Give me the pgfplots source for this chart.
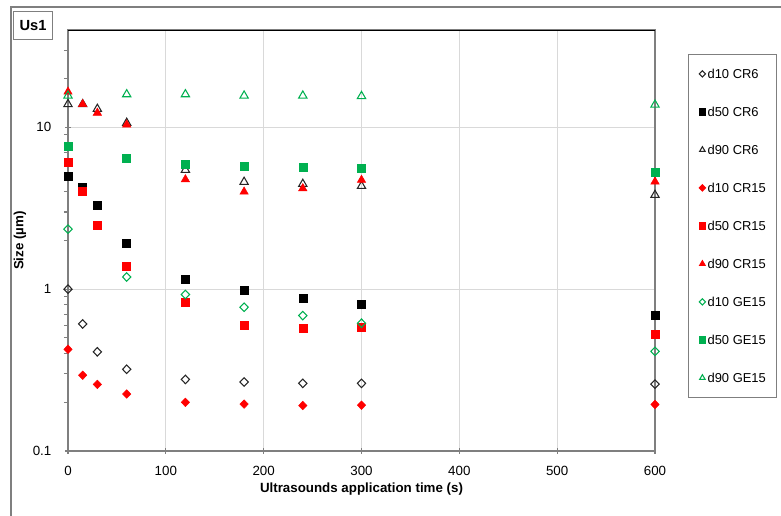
\documentclass[border=0pt]{standalone}
\usepackage{pgfplots}
\pgfplotsset{compat=1.18}
\usepackage{fontspec}
\setmainfont{Liberation Sans}
\definecolor{xred}{HTML}{FF0000}
\definecolor{xgreen}{HTML}{00B050}
\definecolor{axgray}{HTML}{7F7F7F}
\definecolor{gridgray}{HTML}{D9D9D9}
\begin{document}
\begin{tikzpicture}
\path[use as bounding box] (0,0) rectangle (585.75pt,387pt);
\begin{axis}[
  at={(51pt,48.75pt)}, anchor=south west,
  scale only axis, width=440.25pt, height=315.75pt,
  ymode=log, log basis y=10,
  xmin=0, xmax=600, ymin=0.1, ymax=40,
  xtick={0,100,...,600},
  ytick={0.1,1,10},
  minor ytick={0.2,0.3,0.4,0.5,0.6,0.7,0.8,0.9,2,3,4,5,6,7,8,9,20,30},
  tick pos=left,
  log ticks with fixed point,
  /pgf/number format/assume math mode=true,
  font=\fontsize{10}{12}\selectfont,
  ticklabel style={font=\fontsize{10}{12}\selectfont},
  xticklabel style={yshift=-5.5pt},
  yticklabel style={xshift=-7pt},
  xmajorgrids, ymajorgrids,
  major grid style={gridgray, line width=0.8pt},
  axis line style={axgray, line width=1.1pt},
  tick align=center,
  major tick length=4pt,
  minor tick length=3pt,
  tick style={axgray, line width=0.8pt},
  minor y tick style={xshift=-1.5pt},
  xlabel={\bfseries Ultrasounds application time (s)},
  ylabel={\bfseries Size (µm)},
  xlabel style={at={(axis description cs:0.5,-0.0903)}, anchor=center},
  ylabel style={at={(axis description cs:-0.0818,0.5)}, anchor=center, rotate=0},
  clip=false,
  legend style={at={(axis description cs:1.0562,0.943)}, anchor=north west,
    draw=axgray, line width=0.8pt, font=\fontsize{9.7}{12}\selectfont,
    inner xsep=8pt, inner ysep=10.75pt, row sep=21pt,
    nodes={inner sep=0pt, text height=7.5pt, text depth=0pt},
    /tikz/every odd column/.style={column sep=1.5pt}},
  legend cell align=left,
  legend image code/.code={\draw[#1,mark size=2.4pt] plot coordinates {(0pt,0pt)};},
]
% d10 CR6
\addplot[only marks, mark=diamond, mark size=3.2pt, black!85, mark options={line width=0.8pt, xscale=1.3}] coordinates {
(0,1.0) (15,0.61) (30,0.41) (60,0.32) (120,0.277) (180,0.267) (240,0.262) (300,0.262) (600,0.259)};
\addlegendentry{d10 CR6}
% d50 CR6
\addplot[only marks, mark=square*, mark size=3pt, black] coordinates {
(0,4.96) (15,4.24) (30,3.28) (60,1.91) (120,1.16) (180,0.98) (240,0.88) (300,0.81) (600,0.69)};
\addlegendentry{d50 CR6}
% d90 CR6
\addplot[only marks, mark=triangle, mark size=3.6pt, black!85, mark options={line width=0.8pt}] coordinates {
(0,13.9) (15,13.9) (30,13.0) (60,10.65) (120,5.46) (180,4.6) (240,4.47) (300,4.34) (600,3.82)};
\addlegendentry{d90 CR6}
% d10 CR15
\addplot[only marks, mark=diamond*, mark size=3.2pt, xred, mark options={xscale=1.3}] coordinates {
(0,0.425) (15,0.294) (30,0.258) (60,0.225) (120,0.2) (180,0.195) (240,0.191) (300,0.192) (600,0.194)};
\addlegendentry{d10 CR15}
% d50 CR15
\addplot[only marks, mark=square*, mark size=3pt, xred] coordinates {
(0,6.1) (15,4.05) (30,2.49) (60,1.39) (120,0.83) (180,0.60) (240,0.576) (300,0.582) (600,0.53)};
\addlegendentry{d50 CR15}
% d90 CR15
\addplot[only marks, mark=triangle*, mark size=3.6pt, xred] coordinates {
(0,16.6) (15,13.9) (30,12.3) (60,10.4) (120,4.77) (180,4.0) (240,4.2) (300,4.73) (600,4.62)};
\addlegendentry{d90 CR15}
% d10 GE15
\addplot[only marks, mark=diamond, mark size=3.2pt, xgreen, mark options={line width=0.8pt, xscale=1.3}] coordinates {
(0,2.35) (60,1.19) (120,0.927) (180,0.774) (240,0.687) (300,0.616) (600,0.413)};
\addlegendentry{d10 GE15}
% d50 GE15
\addplot[only marks, mark=square*, mark size=3pt, xgreen] coordinates {
(0,7.68) (60,6.43) (120,5.95) (180,5.78) (240,5.67) (300,5.63) (600,5.25)};
\addlegendentry{d50 GE15}
% d90 GE15
\addplot[only marks, mark=triangle, mark size=3.6pt, xgreen, mark options={line width=0.8pt}] coordinates {
(0,15.7) (60,16.0) (120,16.0) (180,15.7) (240,15.7) (300,15.6) (600,13.8)};
\addlegendentry{d90 GE15}
\draw[black, line width=0.6pt] (axis description cs:0,1) -- (axis description cs:1,1);
\end{axis}
\begin{scope}[x=0.75pt,y=-0.75pt,yshift=387pt]
\draw[axgray, line width=0.8pt] (11,520) -- (11,7) -- (790,7);
\node[draw=axgray, line width=1pt, minimum width=29.25pt, minimum height=21pt, inner sep=0pt,
  font=\fontsize{11}{13}\selectfont\bfseries] at (33,25.5) {Us1};
\end{scope}
\end{tikzpicture}
\end{document}
